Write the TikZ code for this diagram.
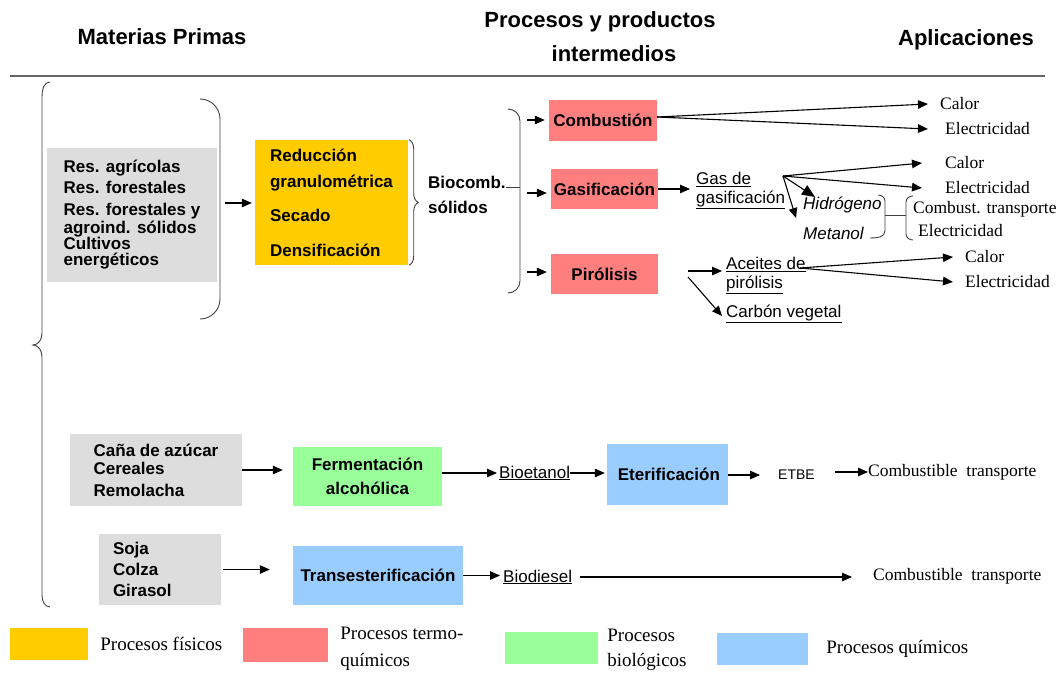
\documentclass[tikz,border=0pt]{standalone}
\usepackage{fontspec}
\setmainfont{Liberation Serif}
\setsansfont{Liberation Sans}
\usepackage{xcolor}
\usetikzlibrary{positioning}
\usetikzlibrary{arrows, arrows.meta, decorations.pathreplacing}

\definecolor{crudo}{HTML}{DDDDDD}
\definecolor{fisico}{HTML}{FFCC00}
\definecolor{termo}{HTML}{FF7F7F}
\definecolor{biolog}{HTML}{99FF99}
\definecolor{quimic}{HTML}{99CCFF}

\tikzset{
  caja/.style={fill=#1, inner sep=0pt, align=center, font=\sffamily\bfseries\fontsize{17}{20}\selectfont},
  txt/.style={inner sep=0pt, align=left, font=\sffamily\bfseries\fontsize{17}{20}\selectfont},
  prod/.style={inner sep=0pt, align=left, anchor=west, font=\sffamily\fontsize{17}{19}\selectfont},
  cursiva/.style={prod, font=\sffamily\itshape\fontsize{17}{19}\selectfont},
  apl/.style={inner sep=0pt, anchor=west, font=\rmfamily\fontsize{17.5}{20}\selectfont},
  ley/.style={inner sep=0pt, align=left, font=\rmfamily\fontsize{19}{21}\selectfont},
  titulo/.style={inner sep=0pt, font=\sffamily\bfseries\fontsize{22}{26}\selectfont},
  flecha/.style={-{Triangle[length=10pt,width=8.5pt]}, line width=1.1pt},
  llave/.style={draw=black!75, line width=0.9pt},
}

\begin{document}
\begin{tikzpicture}[x=1pt,y=1pt]
  \useasboundingbox (0,0) rectangle (1063,-677);

  % titulos
  \node[titulo] (tMat) at (162,-37) {Materias Primas};
  \node[titulo] (tProc) at (600,-22) {Procesos y productos};
  \node[titulo] (tInt) at (614,-54) {intermedios};
  \node[titulo] (tApl) at (966,-40) {Aplicaciones};
  \draw[black!60, line width=2.5pt] (10,-76) -- (1045,-76);

  % llave grande
  \draw[llave] (50,-82) to[out=180,in=90] (42,-97) -- (42,-333) to[out=-90,in=0] (33,-345)
    to[out=0,in=90] (42,-357) -- (42,-595) to[out=-90,in=180] (50,-607);

  % biocombustibles solidos
  \node[caja=crudo, align=left, minimum width=170pt, minimum height=134pt] (crudoA) at (132,-215)
    {Res. agrícolas\\[1pt]Res. forestales\\[2pt]Res. forestales y\\[-2pt]agroind. sólidos\\[-4pt]Cultivos\\[-4pt]energéticos};
  \draw[llave] (200,-99) to[out=0,in=90] (220,-119) -- (220,-299) to[out=-90,in=0] (200,-319);
  \coordinate (llA) at (225,-203);

  \node[caja=fisico, align=left, minimum width=153pt, minimum height=125pt] (fis) at (331.5,-202.5)
    {Reducción\\[6pt]granulométrica\\[14pt]Secado\\[15pt]Densificación};
  \draw[flecha, shorten >=3pt] (llA) -- (llA -| fis.west);
  \draw[llave, decorate, decoration={brace, amplitude=9pt, raise=1pt}] (fis.north east) -- (fis.south east);

  \node[txt, anchor=west] (bioc) at (428,-195) {Biocomb.\\[5pt]sólidos};
  \coordinate (llB) at (520,-187);
  \draw[llave] (508,-109) to[out=0,in=90] (520,-121) -- (520,-281) to[out=-90,in=0] (508,-293);
  \draw[llave] (bioc.east |- llB) -- (llB);

  % termoquimicos
  \node[caja=termo, minimum width=108pt, minimum height=41pt] (comb) at (603,-120.5) {Combustión};
  \node[caja=termo, minimum width=107pt, minimum height=40pt] (gas) at (604.5,-189) {Gasificación};
  \node[caja=termo, minimum width=107pt, minimum height=40pt] (pir) at (604.5,-274) {Pirólisis};
  \coordinate (eC) at (527,-120);
  \coordinate (eG) at (527,-193);
  \coordinate (eP) at (527,-272);
  \draw[flecha, shorten >=4pt] (eC) -- (eC -| comb.west);
  \draw[flecha, shorten >=4pt] (eG) -- (eG -| gas.west);
  \draw[flecha, shorten >=4pt] (eP) -- (eP -| pir.west);

  % combustion
  \node[apl] (cal1) at (940,-104) {Calor};
  \node[apl] (ele1) at (945,-129) {Electricidad};
  \draw[flecha] ([yshift=3.5pt]comb.east) -- ([xshift=-12pt]cal1.west);
  \draw[flecha] ([yshift=3.5pt]comb.east) -- ([xshift=-17pt]ele1.west);

  % gasificacion
  \node[prod] (gasg) at (696,-190.5) {\underline{Gas de}\\\underline{gasificación}};
  \draw[flecha, shorten >=6pt] (gas.east) -- (gas.east -| gasg.west);
  \coordinate (gX) at (783,-176);
  \node[apl] (cal2) at (945,-163) {Calor};
  \node[apl] (ele2) at (945,-188) {Electricidad};
  \node[cursiva] (hid) at (803,-205) {Hidrógeno};
  \node[cursiva] (met) at (803,-233) {Metanol};
  \draw[flecha] (gX) -- ([xshift=-23pt]cal2.west);
  \draw[flecha] (gX) -- ([xshift=-23pt]ele2.west);
  \draw[line width=1.1pt, -{Triangle[length=13pt,width=11pt]}] (gX) -- ([shift={(12pt,8pt)}]hid.west);
  \draw[flecha] (gX) -- ([shift={(-7pt,15pt)}]met.west);
  \draw[llave] (878,-195) to[out=0,in=90] (885,-201) -- (885,-231) to[out=-90,in=0] (870,-238);
  \draw[llave] (885,-215) -- (906,-215);
  \draw[llave] (913,-196) to[out=180,in=90] (906,-202) -- (906,-234) to[out=-90,in=180] (913,-240);
  \node[apl] (cbt) at (913,-209) {Combust. transporte};
  \node[apl] (ele4) at (918,-231) {Electricidad};

  % pirolisis
  \node[prod] (acei) at (726,-275.5) {\underline{Aceites de}\\\underline{pirólisis}};
  \node[prod] (carb) at (726,-314) {\underline{Carbón vegetal}};
  \coordinate (pA) at (688,-271);
  \coordinate (pB) at (688,-277);
  \draw[flecha, shorten >=4pt] (pA) -- (pA -| acei.west);
  \draw[flecha] (pB) -- ([shift={(-4pt,-2pt)}]carb.west);
  \coordinate (aX) at (800,-268);
  \node[apl] (cal3) at (965,-257) {Calor};
  \node[apl] (ele3) at (965,-282) {Electricidad};
  \draw[flecha] (aX) -- ([xshift=-12pt]cal3.west);
  \draw[flecha] (aX) -- ([xshift=-12pt]ele3.west);

  % bioetanol
  \node[caja=crudo, align=left, minimum width=172pt, minimum height=72pt] (crudoB) at (156,-470)
    {Caña de azúcar\\[-2pt]Cereales\\[2pt]Remolacha};
  \node[caja=biolog, minimum width=149pt, minimum height=59pt] (ferm) at (367.5,-476.5) {Fermentación\\[4pt]alcohólica};
  \draw[flecha, shorten >=10pt] (crudoB.east) -- (crudoB.east -| ferm.west);
  \node[prod] (bioet) at (499,-473) {\underline{Bioetanol}};
  \draw[flecha, shorten >=2pt] (ferm.east |- bioet.west) -- (bioet.west);
  \node[caja=quimic, minimum width=121pt, minimum height=61pt] (eter) at (667.5,-474.5) {\,Eterificación};
  \draw[flecha, shorten >=2pt] (bioet.east) -- (bioet.east -| eter.west);
  \node[prod, font=\sffamily\fontsize{14}{16}\selectfont] (etbe) at (778,-475) {ETBE};
  \draw[flecha, shorten >=18pt] (eter.east |- etbe.west) -- (etbe.west);
  \node[apl] (ct1) at (868,-472) {Combustible\ \ transporte};
  \draw[flecha, shorten <=20pt] (etbe.east |- ct1.west) -- (ct1.west);

  % biodiesel
  \node[caja=crudo, align=left, text width=94pt, inner xsep=14pt, minimum height=71pt] (crudoC) at (160,-569.5)
    {Soja\\[1pt]Colza\\[1pt]Girasol};
  \node[caja=quimic, minimum width=170pt, minimum height=59pt] (trans) at (378,-575.5) {Transesterificación};
  \draw[flecha, shorten <=2pt, shorten >=23pt] (crudoC.east) -- (crudoC.east -| trans.west);
  \node[prod] (biod) at (503,-577) {\underline{Biodiesel}};
  \draw[flecha, shorten >=3pt] (trans.east) -- (trans.east -| biod.west);
  \node[apl] (ct2) at (873,-576) {Combustible\ \ transporte};
  \draw[flecha, shorten <=8pt, shorten >=21pt] (biod.east) -- (biod.east -| ct2.west);

  % leyenda
  \node[caja=fisico, minimum width=78pt, minimum height=32pt] (lFis) at (49,-644) {};
  \node[ley, right=12pt of lFis] (tFis) {Procesos físicos};
  \node[caja=termo, minimum width=85pt, minimum height=34pt] (lTer) at (285.5,-645) {};
  \node[ley, right=12pt of lTer, yshift=-4pt] (tTer) {Procesos termo-\\[6pt]químicos};
  \node[caja=biolog, minimum width=93pt, minimum height=32pt] (lBio) at (551.5,-648) {};
  \node[ley, right=9pt of lBio, yshift=-2pt] (tBio) {Procesos\\[4pt]biológicos};
  \node[caja=quimic, minimum width=91pt, minimum height=32pt] (lQui) at (762.5,-649) {};
  \node[ley, right=18pt of lQui] (tQui) {Procesos químicos};
\end{tikzpicture}
\end{document}
